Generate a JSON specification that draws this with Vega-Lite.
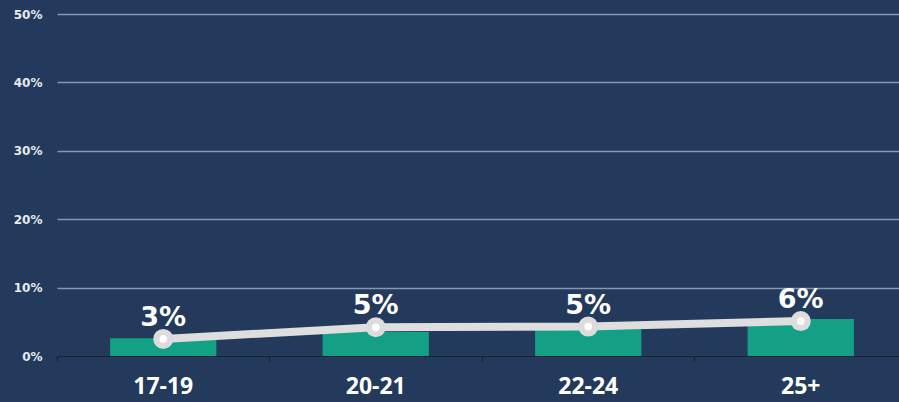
{
  "$schema": "https://vega.github.io/schema/vega-lite/v6.json",
  "autosize": {"type": "none"},
  "padding": {"left": 57, "top": 14, "right": 0, "bottom": 46},
  "width": 850,
  "height": 342,
  "background": "#233a5c",
  "config": {
    "view": {"stroke": null},
    "axis": {"labelFont": "DejaVu Sans"}
  },
  "data": {
    "values": [
      {"age": "17-19", "bar": 2.6, "line": 2.5, "label": "3%"},
      {"age": "20-21", "bar": 3.5, "line": 4.2, "label": "5%"},
      {"age": "22-24", "bar": 3.9, "line": 4.3, "label": "5%"},
      {"age": "25+", "bar": 5.4, "line": 5.1, "label": "6%"}
    ]
  },
  "encoding": {
    "x": {
      "field": "age",
      "type": "nominal",
      "sort": null,
      "scale": {"paddingInner": 0.5, "paddingOuter": 0.25},
      "axis": {
        "title": null,
        "labelAngle": 0,
        "labelFont": "Open Sans",
        "labelFontWeight": "bold",
        "labelFontSize": 23,
        "labelColor": "#ffffff",
        "labelPadding": 14,
        "domainColor": "#15243b",
        "domainWidth": 2,
        "ticks": true,
        "tickColor": "#15243b",
        "tickSize": 5,
        "tickWidth": 1.5,
        "bandPosition": -0.5,
        "grid": false
      }
    }
  },
  "layer": [
    {
      "mark": {"type": "bar", "color": "#13a085"},
      "encoding": {
        "y": {
          "field": "bar",
          "type": "quantitative",
          "scale": {"domain": [0, 50], "nice": false},
          "axis": {
            "title": null,
            "values": [0, 10, 20, 30, 40, 50],
            "labelExpr": "datum.value + '%'",
            "labelFont": "DejaVu Sans",
            "labelFontWeight": "bold",
            "labelFontSize": 12,
            "labelColor": "#e6ebf2",
            "labelPadding": 15,
            "domain": false,
            "ticks": false,
            "grid": true,
            "gridColor": "#8797b0",
            "gridWidth": 1.5
          }
        }
      }
    },
    {
      "mark": {"type": "line", "color": "#dedede", "strokeWidth": 8},
      "encoding": {"y": {"field": "line", "type": "quantitative"}}
    },
    {
      "mark": {"type": "point", "filled": true, "color": "#dcdcdc", "size": 400, "opacity": 1},
      "encoding": {"y": {"field": "line", "type": "quantitative"}}
    },
    {
      "mark": {"type": "point", "filled": true, "color": "#ffffff", "size": 60, "opacity": 1},
      "encoding": {"y": {"field": "line", "type": "quantitative"}}
    },
    {
      "mark": {"type": "text", "font": "DejaVu Sans", "fontWeight": "bold", "fontSize": 27, "color": "#ffffff", "baseline": "alphabetic", "dy": -13},
      "encoding": {
        "y": {"field": "line", "type": "quantitative"},
        "text": {"field": "label"}
      }
    }
  ]
}
